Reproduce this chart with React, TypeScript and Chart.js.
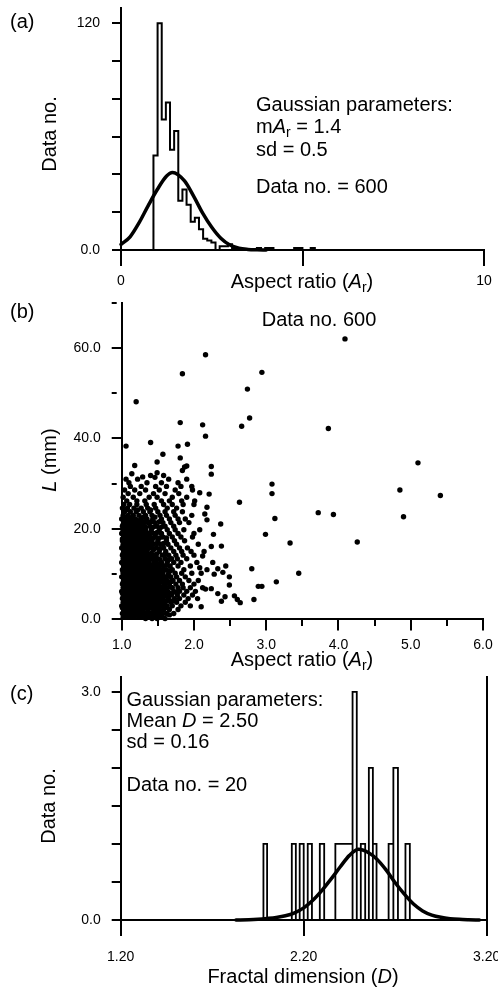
import React, { useEffect, useRef } from "react";
import { Chart, registerables } from "chart.js";

Chart.register(...registerables);

const FONT = '"Liberation Sans", Arial, Helvetica, sans-serif';
const BLACK = "#000";
const TICK_FONT = 14;

// ---------------- Panel (a): histogram of aspect ratio ----------------
const aBinStart = 0.894;
const aBinWidth = 0.114;
const aCounts = [50, 120, 69, 78, 53, 63, 26, 32, 24, 15, 17, 11, 6, 5, 4, 0, 2, 2, 3, 1, 0, 0, 0, 0, 0, 1, 0, 1, 1, 0, 0, 0, 0, 0, 1, 1, 0, 0, 1];
const aCurveX = [0, 0.25, 0.5, 0.75, 1.0, 1.25, 1.42, 1.75, 2.0, 2.25, 2.5, 2.75, 3.0, 3.25, 3.5, 3.75, 4.0];
const aCurveY = [3, 7, 14.5, 23.5, 32, 39, 41, 36.5, 28.5, 19.5, 12, 6.2, 2.6, 0.9, 0.3, 0.1, 0];
const aXTicks = [0, 5, 10];
const aXLabels = ["0", "", "10"];
const aYTicks = [0, 20, 40, 60, 80, 100, 120];
const aYLabels = ["0.0", "", "", "", "", "", "120"];

// ---------------- Panel (b): L versus aspect ratio ----------------
const bRowY = [0.5, 1.3, 2.2, 3.0, 3.8, 4.6, 5.4, 6.2, 7.0, 7.8, 8.6, 9.4, 10.2, 11.0, 11.8, 12.6, 13.4, 14.2, 15.0, 15.8, 16.6, 17.4, 18.2, 19.0, 19.8, 20.6, 21.4, 22.2, 23.0, 23.8, 24.6, 25.4, 26.2, 27.0, 27.8, 28.6, 29.4, 30.2, 31.0];
const bRowX = [
  [1.02, 1.06, 1.12, 1.17, 1.24, 1.3, 1.38, 1.45, 1.55],
  [1.01, 1.05, 1.1, 1.15, 1.2, 1.26, 1.33, 1.41, 1.5, 1.62, 1.72],
  [1.03, 1.08, 1.13, 1.19, 1.23, 1.29, 1.36, 1.44, 1.52, 1.58, 1.66, 1.78],
  [1.0, 1.04, 1.09, 1.14, 1.2, 1.27, 1.31, 1.37, 1.43, 1.48, 1.56, 1.63, 1.7, 1.82, 1.95],
  [1.02, 1.07, 1.11, 1.17, 1.22, 1.28, 1.34, 1.4, 1.46, 1.53, 1.6, 1.68, 1.76, 1.88],
  [1.01, 1.05, 1.1, 1.15, 1.2, 1.25, 1.31, 1.38, 1.44, 1.5, 1.57, 1.65, 1.73, 1.8, 1.92, 2.05],
  [1.03, 1.08, 1.13, 1.18, 1.24, 1.29, 1.35, 1.42, 1.47, 1.54, 1.61, 1.69, 1.77, 1.86, 1.98],
  [1.0, 1.05, 1.1, 1.16, 1.21, 1.27, 1.32, 1.39, 1.45, 1.52, 1.58, 1.64, 1.72, 1.8, 1.9, 2.02],
  [1.02, 1.07, 1.12, 1.18, 1.23, 1.3, 1.36, 1.41, 1.49, 1.56, 1.62, 1.7, 1.78, 1.85, 1.95, 2.12],
  [1.01, 1.06, 1.11, 1.15, 1.21, 1.26, 1.33, 1.38, 1.44, 1.51, 1.59, 1.66, 1.75, 1.84, 2.0],
  [1.03, 1.08, 1.13, 1.19, 1.24, 1.29, 1.35, 1.42, 1.48, 1.55, 1.63, 1.71, 1.8, 1.93, 2.06],
  [1.0, 1.05, 1.1, 1.16, 1.22, 1.27, 1.32, 1.4, 1.46, 1.53, 1.6, 1.68, 1.76, 1.88],
  [1.02, 1.07, 1.12, 1.17, 1.23, 1.3, 1.36, 1.43, 1.5, 1.57, 1.65, 1.74, 1.83, 1.97, 2.1],
  [1.01, 1.06, 1.11, 1.15, 1.2, 1.26, 1.33, 1.39, 1.45, 1.54, 1.62, 1.7, 1.86, 2.18],
  [1.03, 1.08, 1.13, 1.18, 1.24, 1.29, 1.36, 1.42, 1.49, 1.58, 1.67, 1.78, 1.95],
  [1.0, 1.05, 1.1, 1.15, 1.21, 1.27, 1.32, 1.38, 1.47, 1.55, 1.63, 1.72, 1.82, 2.04],
  [1.02, 1.07, 1.12, 1.17, 1.22, 1.28, 1.34, 1.4, 1.5, 1.6, 1.69, 1.77, 1.9],
  [1.01, 1.06, 1.1, 1.16, 1.2, 1.25, 1.31, 1.37, 1.44, 1.56, 1.65, 1.75, 1.85, 2.0],
  [1.03, 1.08, 1.13, 1.18, 1.23, 1.29, 1.35, 1.52, 1.61, 1.72, 1.83, 1.96, 2.14],
  [1.0, 1.05, 1.1, 1.15, 1.2, 1.26, 1.32, 1.4, 1.48, 1.58, 1.68, 1.8, 1.91],
  [1.02, 1.07, 1.12, 1.17, 1.23, 1.29, 1.36, 1.44, 1.54, 1.64, 1.76, 2.06],
  [1.01, 1.06, 1.11, 1.16, 1.21, 1.27, 1.34, 1.42, 1.5, 1.62, 1.73, 1.87],
  [1.03, 1.08, 1.13, 1.19, 1.25, 1.31, 1.39, 1.47, 1.57, 1.7, 1.82, 1.98],
  [1.0, 1.05, 1.1, 1.16, 1.22, 1.28, 1.37, 1.45, 1.55, 1.66, 1.78, 2.0],
  [1.02, 1.07, 1.13, 1.19, 1.26, 1.33, 1.41, 1.52, 1.63, 1.74, 1.86, 2.08],
  [1.01, 1.06, 1.11, 1.17, 1.24, 1.31, 1.39, 1.49, 1.6, 1.72],
  [1.03, 1.09, 1.15, 1.21, 1.28, 1.36, 1.46, 1.57, 1.68, 1.8, 1.93],
  [1.0, 1.06, 1.12, 1.19, 1.27, 1.35, 1.43, 1.55, 1.66, 1.78, 1.88],
  [1.02, 1.09, 1.16, 1.24, 1.33, 1.42, 1.53, 1.62, 1.74, 1.97],
  [1.04, 1.12, 1.2, 1.3, 1.39, 1.5, 1.6, 1.72, 1.84],
  [1.01, 1.08, 1.17, 1.27, 1.36, 1.47, 1.63, 1.76],
  [1.03, 1.11, 1.21, 1.34, 1.45, 1.58, 1.7, 1.85, 2.0],
  [1.07, 1.21, 1.32, 1.55, 1.66, 1.83, 2.01],
  [1.02, 1.16, 1.38, 1.49, 1.7, 1.9],
  [1.09, 1.25, 1.44, 1.6, 1.79],
  [1.04, 1.18, 1.33, 1.52, 1.74, 1.98],
  [1.12, 1.27, 1.47, 1.62, 1.82, 1.97],
  [1.1, 1.35, 1.55, 1.78],
  [1.06, 1.22, 1.65, 1.9],
];
// interleaved rows filling the dense core of the cloud
const bCoreY = [0.9, 1.7, 2.6, 3.4, 4.2, 5.0, 5.8, 6.6, 7.4, 8.2, 9.0, 9.8, 10.6, 11.4, 12.2, 13.0, 13.8, 14.6, 15.4, 16.2, 17.0, 17.8, 18.6, 19.4, 20.2, 21.0, 21.8];
const bCoreX = [
  [1.04, 1.09, 1.14, 1.2, 1.27, 1.34, 1.41, 1.5],
  [1.03, 1.08, 1.13, 1.18, 1.23, 1.3, 1.37, 1.46, 1.55],
  [1.01, 1.06, 1.11, 1.16, 1.21, 1.26, 1.33, 1.4, 1.48, 1.62],
  [1.03, 1.07, 1.12, 1.17, 1.24, 1.29, 1.35, 1.42, 1.51, 1.59],
  [1.04, 1.08, 1.13, 1.19, 1.24, 1.3, 1.36, 1.42, 1.48, 1.55, 1.63],
  [1.02, 1.06, 1.11, 1.16, 1.22, 1.27, 1.33, 1.39, 1.45, 1.52, 1.58],
  [1.01, 1.07, 1.12, 1.18, 1.23, 1.29, 1.36, 1.42, 1.49, 1.56, 1.66],
  [1.03, 1.08, 1.13, 1.19, 1.25, 1.3, 1.35, 1.43, 1.48, 1.55, 1.61],
  [1.04, 1.09, 1.15, 1.2, 1.26, 1.33, 1.39, 1.45, 1.52, 1.6],
  [1.02, 1.07, 1.13, 1.18, 1.23, 1.29, 1.35, 1.41, 1.47, 1.54, 1.62],
  [1.03, 1.08, 1.12, 1.19, 1.25, 1.3, 1.37, 1.43, 1.5, 1.57],
  [1.04, 1.09, 1.14, 1.2, 1.25, 1.31, 1.38, 1.44, 1.52],
  [1.02, 1.07, 1.11, 1.16, 1.22, 1.28, 1.34, 1.4, 1.47, 1.55],
  [1.04, 1.08, 1.13, 1.18, 1.23, 1.3, 1.36, 1.43, 1.51],
  [1.02, 1.07, 1.12, 1.17, 1.24, 1.3, 1.35, 1.44, 1.52],
  [1.04, 1.09, 1.14, 1.2, 1.25, 1.31, 1.37, 1.45],
  [1.03, 1.08, 1.13, 1.19, 1.25, 1.31, 1.38, 1.47],
  [1.02, 1.07, 1.12, 1.18, 1.23, 1.29, 1.34, 1.41],
  [1.04, 1.09, 1.15, 1.2, 1.26, 1.33, 1.44],
  [1.02, 1.07, 1.13, 1.18, 1.25, 1.31, 1.38],
  [1.03, 1.09, 1.14, 1.19, 1.25, 1.32, 1.4],
  [1.01, 1.06, 1.11, 1.17, 1.22, 1.29, 1.36],
  [1.04, 1.1, 1.15, 1.21, 1.28, 1.34],
  [1.02, 1.08, 1.13, 1.19, 1.25, 1.32],
  [1.04, 1.09, 1.15, 1.21, 1.28],
  [1.02, 1.07, 1.13, 1.2, 1.26],
  [1.04, 1.1, 1.16, 1.23],
];
// extra irregular points on the right flank of the dense core
const bFlankY = [0.2, 1.0, 2.9, 4.0, 5.2, 6.0, 7.2, 8.4, 9.6, 10.8, 12.0, 13.2, 14.4, 15.6, 16.8, 18.0, 19.2, 20.4, 21.6, 22.6, 24.2];
const bFlankX = [
  [1.33, 1.42, 1.49, 1.6],
  [1.3, 1.37, 1.45, 1.56, 1.66],
  [1.35, 1.41, 1.53, 1.61],
  [1.33, 1.47, 1.54, 1.7],
  [1.38, 1.44, 1.5, 1.64],
  [1.34, 1.41, 1.55, 1.62, 1.75],
  [1.34, 1.46, 1.53, 1.67],
  [1.32, 1.39, 1.45, 1.52, 1.59, 1.69],
  [1.35, 1.43, 1.49, 1.57, 1.64],
  [1.31, 1.38, 1.49, 1.58, 1.68],
  [1.33, 1.4, 1.46, 1.55, 1.62],
  [1.36, 1.44, 1.53, 1.65],
  [1.3, 1.4, 1.48, 1.6],
  [1.29, 1.36, 1.43, 1.53],
  [1.32, 1.4, 1.49, 1.58],
  [1.35, 1.43, 1.52, 1.62],
  [1.3, 1.4, 1.49],
  [1.33, 1.44, 1.55],
  [1.32, 1.41, 1.52],
  [1.05, 1.15, 1.3, 1.46],
  [1.06, 1.22, 1.4],
];
const bSparse: [number, number][] = [
  [4.09, 62.0], [2.16, 58.5], [1.84, 54.3], [2.94, 54.6], [1.2, 48.1], [2.74, 50.9], [2.77, 44.5], [2.66, 42.7],
  [1.81, 43.5], [2.12, 43.0], [3.86, 42.2], [2.16, 40.5], [1.06, 38.3], [1.4, 39.1], [1.78, 38.3], [1.91, 38.7],
  [1.57, 36.5], [1.81, 35.7], [1.49, 34.8], [1.18, 34.0], [1.9, 33.9], [1.87, 33.7], [1.84, 32.9], [2.24, 33.8],
  [2.24, 32.1], [5.1, 34.6], [1.14, 32.2], [1.29, 31.5], [1.49, 32.4], [1.46, 31.4], [1.4, 31.8], [1.58, 31.8],
  [3.08, 29.9], [3.08, 27.8], [4.85, 28.6], [5.41, 27.4], [2.63, 25.9], [3.72, 23.6], [3.93, 23.2], [4.9, 22.7],
  [3.12, 22.3], [2.99, 18.8], [3.33, 16.9], [4.26, 17.1], [3.45, 10.2], [3.14, 8.3], [2.8, 11.2], [2.89, 7.3],
  [2.94, 7.3], [2.83, 4.4], [2.56, 5.2], [2.6, 4.4], [2.64, 3.7], [2.49, 9.4], [2.49, 7.6], [2.44, 11.8],
  [2.4, 10.4], [2.33, 11.2], [2.28, 10.0], [2.26, 12.6], [2.38, 16.2], [2.24, 16.1], [2.27, 18.8], [2.37, 21.1],
  [2.18, 22.0], [2.15, 23.3], [2.18, 24.8], [2.21, 27.7], [2.16, 6.7], [2.24, 6.8], [2.33, 5.7], [2.38, 4.0],
  [2.43, 5.0], [2.1, 2.8], [2.12, 14.0], [2.08, 11.4], [2.08, 28.0],
];
const bXTicks = [1, 1.5, 2, 2.5, 3, 3.5, 4, 4.5, 5, 5.5, 6];
const bXLabels = ["1.0", "", "2.0", "", "3.0", "", "4.0", "", "5.0", "", "6.0"];
const bYTicks = [0, 10, 20, 30, 40, 50, 60, 70];
const bYLabels = ["0.0", "", "20.0", "", "40.0", "", "60.0", ""];

// ---------------- Panel (c): histogram of fractal dimension ----------------
const cBarLeft = [1.98, 2.135, 2.178, 2.222, 2.288, 2.373, 2.467, 2.512, 2.556, 2.578, 2.664, 2.69, 2.756];
const cBarRight = [2.0, 2.157, 2.2, 2.245, 2.312, 2.467, 2.49, 2.536, 2.578, 2.598, 2.69, 2.715, 2.78];
const cBarCount = [1, 1, 1, 1, 1, 1, 3, 1, 2, 1, 1, 2, 1];
const cCurveX = [1.83, 1.9, 1.95, 2.0, 2.05, 2.1, 2.15, 2.2, 2.25, 2.3, 2.35, 2.4, 2.45, 2.5, 2.55, 2.6, 2.65, 2.7, 2.75, 2.8, 2.85, 2.9, 2.95, 3.0, 3.05, 3.1, 3.16];
const cCurveY = [0, 0.004, 0.01, 0.02, 0.033, 0.055, 0.095, 0.16, 0.26, 0.39, 0.54, 0.7, 0.85, 0.93, 0.89, 0.8, 0.66, 0.49, 0.34, 0.21, 0.12, 0.065, 0.035, 0.018, 0.009, 0.004, 0];
const cXTicks = [1.2, 2.2, 3.2];
const cXLabels = ["1.20", "2.20", "3.20"];
const cYTicks = [0, 0.5, 1, 1.5, 2, 2.5, 3];
const cYLabels = ["0.0", "", "", "", "", "", "3.0"];

// ---------------- helpers ----------------
type ScaleSpec = {
  min: number; max: number; ticks: number[]; labels: string[];
  position: "left" | "bottom" | "right"; size: number; tickLength: number; padding: number;
  minor?: (v: number) => boolean; minorLength?: number; hideTicks?: boolean;
};

function makeScale(s: ScaleSpec): any {
  const horizontal = s.position === "bottom";
  return {
    type: "linear",
    position: s.position,
    min: s.min,
    max: s.max,
    afterBuildTicks: (scale: any) => {
      scale.ticks = s.ticks.map((v) => ({ value: v }));
    },
    afterFit: (scale: any) => {
      if (horizontal) scale.height = s.size;
      else scale.width = s.size;
      scale.paddingLeft = 0;
      scale.paddingRight = 0;
      scale.paddingTop = 0;
      scale.paddingBottom = 0;
    },
    grid: {
      display: !s.hideTicks,
      drawOnChartArea: false,
      drawTicks: !s.hideTicks,
      tickLength: s.tickLength,
      lineWidth: 2,
      color: BLACK,
      tickBorderDash: (ctx: any) =>
        s.minor && ctx && ctx.tick && s.minor(ctx.tick.value) ? [s.minorLength ?? 5, 300] : [],
    },
    border: { display: true, color: BLACK, width: 2 },
    ticks: {
      display: !s.hideTicks,
      color: BLACK,
      font: { family: FONT, size: TICK_FONT },
      padding: s.padding,
      autoSkip: false,
      maxRotation: 0,
      minRotation: 0,
      callback: (_v: any, i: number) => s.labels[i] ?? "",
    },
  };
}

function baseConfig(datasets: any[], scales: any, padding: any): any {
  return {
    type: "line",
    data: { datasets },
    options: {
      responsive: false,
      maintainAspectRatio: false,
      animation: false,
      events: [],
      layout: { padding },
      plugins: { legend: { display: false }, tooltip: { enabled: false }, title: { display: false } },
      scales,
    },
  };
}

function curveDataset(xs: number[], ys: number[], width: number) {
  return {
    data: xs.map((x, i) => ({ x, y: ys[i] })),
    borderColor: BLACK,
    borderWidth: width,
    pointRadius: 0,
    pointHoverRadius: 0,
    fill: false,
    cubicInterpolationMode: "monotone",
    borderCapStyle: "round",
    borderJoinStyle: "round",
    clip: false,
  };
}

function configA() {
  const edges = aCounts.map((_, i) => aBinStart + i * aBinWidth).concat([aBinStart + aCounts.length * aBinWidth]);
  const pts: { x: number; y: number }[] = [{ x: edges[0], y: 0 }];
  aCounts.forEach((c, i) => pts.push({ x: edges[i], y: c }));
  pts.push({ x: edges[aCounts.length], y: 0 });
  const hist = {
    data: pts,
    stepped: true,
    borderColor: BLACK,
    borderWidth: 2,
    pointRadius: 0,
    pointHoverRadius: 0,
    fill: false,
    borderJoinStyle: "miter",
    clip: false,
  };
  return baseConfig(
    [curveDataset(aCurveX, aCurveY, 3.5), hist],
    {
      x: makeScale({ min: 0, max: 10, ticks: aXTicks, labels: aXLabels, position: "bottom", size: 50, tickLength: 16, padding: 6.5 }),
      y: makeScale({ min: 0, max: 128, ticks: aYTicks, labels: aYLabels, position: "left", size: 121, tickLength: 9, padding: 12 }),
    },
    { left: 0, right: 14, top: 8, bottom: 0 }
  );
}

function configB() {
  const pts: { x: number; y: number }[] = [];
  bRowY.forEach((y, r) => bRowX[r].forEach((x) => pts.push({ x, y })));
  bCoreY.forEach((y, r) => bCoreX[r].forEach((x) => pts.push({ x, y })));
  bFlankY.forEach((y, r) => bFlankX[r].forEach((x) => pts.push({ x, y })));
  bSparse.forEach(([x, y]) => pts.push({ x, y }));
  const scatter = {
    data: pts,
    showLine: false,
    pointRadius: 2.7,
    pointHoverRadius: 2.7,
    pointBackgroundColor: BLACK,
    pointBorderWidth: 0,
    pointBorderColor: BLACK,
    clip: false,
  };
  return baseConfig(
    [scatter],
    {
      x: makeScale({ min: 1, max: 6, ticks: bXTicks, labels: bXLabels, position: "bottom", size: 40.6, tickLength: 11, padding: 6, minor: (v) => Math.abs(v - Math.round(v)) > 0.01, minorLength: 6 }),
      y: makeScale({ min: 0, max: 70, ticks: bYTicks, labels: bYLabels, position: "left", size: 121.7, tickLength: 10, padding: 11, minor: (v) => Math.round(v) % 20 !== 0, minorLength: 5 }),
    },
    { left: 0, right: 15, top: 2.7, bottom: 0 }
  );
}

function configC() {
  const pts: { x: number; y: number }[] = [];
  cBarCount.forEach((c, i) => {
    pts.push({ x: cBarLeft[i], y: 0 });
    pts.push({ x: cBarLeft[i], y: c });
    pts.push({ x: cBarRight[i], y: 0 });
  });
  const hist = {
    data: pts,
    stepped: true,
    borderColor: BLACK,
    borderWidth: 1.8,
    pointRadius: 0,
    pointHoverRadius: 0,
    fill: false,
    borderJoinStyle: "miter",
    clip: false,
  };
  return baseConfig(
    [curveDataset(cCurveX, cCurveY, 3.5), hist],
    {
      x: makeScale({ min: 1.2, max: 3.2, ticks: cXTicks, labels: cXLabels, position: "bottom", size: 71, tickLength: 16, padding: 13 }),
      y: makeScale({ min: 0, max: 3.2, ticks: cYTicks, labels: cYLabels, position: "left", size: 120.7, tickLength: 9, padding: 11 }),
      y2: makeScale({ min: 0, max: 3.2, ticks: [], labels: [], position: "right", size: 11.3, tickLength: 0, padding: 0, hideTicks: true }),
    },
    { left: 0, right: 0, top: 16.7, bottom: 0 }
  );
}

function ChartCanvas({ top, height, config }: { top: number; height: number; config: () => any }) {
  const ref = useRef<HTMLCanvasElement>(null);
  useEffect(() => {
    if (!ref.current) return;
    const chart = new Chart(ref.current, config());
    return () => chart.destroy();
  }, []);
  return (
    <canvas
      ref={ref}
      width={498}
      height={height}
      style={{ position: "absolute", left: 0, top, width: 498, height }}
    />
  );
}

function Sub({ children }: { children: React.ReactNode }) {
  return <span style={{ fontSize: "0.7em", position: "relative", top: "0.3em" }}>{children}</span>;
}

function Txt({
  x, y, size = 20, anchor = "start", rotate = false, children,
}: { x: number; y: number; size?: number; anchor?: "start" | "middle"; rotate?: boolean; children: React.ReactNode }) {
  const tx = anchor === "middle" ? "-50%" : "0";
  return (
    <div
      style={{
        position: "absolute",
        left: x,
        top: y,
        fontFamily: FONT,
        fontSize: size,
        lineHeight: 1,
        whiteSpace: "nowrap",
        color: BLACK,
        transform: `translate(${tx}, -50%)${rotate ? " rotate(-90deg)" : ""}`,
      }}
    >
      {children}
    </div>
  );
}

export default function App() {
  return (
    <div style={{ position: "absolute", left: 0, top: 0, width: 498, height: 991, background: "#fff", overflow: "hidden" }}>
      <ChartCanvas top={0} height={300} config={configA} />
      <ChartCanvas top={300} height={360} config={configB} />
      <ChartCanvas top={660} height={331} config={configC} />

      {/* Panel (a) */}
      <Txt x={10} y={21}>(a)</Txt>
      <Txt x={48.5} y={134} anchor="middle" rotate>Data no.</Txt>
      <Txt x={302} y={281} anchor="middle">Aspect ratio (<i>A</i><Sub>r</Sub>)</Txt>
      <Txt x={256} y={104}>Gaussian parameters:</Txt>
      <Txt x={256} y={126}>m<i>A</i><Sub>r</Sub> = 1.4</Txt>
      <Txt x={256} y={149}>sd = 0.5</Txt>
      <Txt x={256} y={186}>Data no. = 600</Txt>

      {/* Panel (b) */}
      <Txt x={10} y={311}>(b)</Txt>
      <Txt x={49} y={460} anchor="middle" rotate><i>L</i> (mm)</Txt>
      <Txt x={319} y={318.5} anchor="middle">Data no. 600</Txt>
      <Txt x={302} y={659} anchor="middle">Aspect ratio (<i>A</i><Sub>r</Sub>)</Txt>

      {/* Panel (c) */}
      <Txt x={10} y={693}>(c)</Txt>
      <Txt x={48} y={806} anchor="middle" rotate>Data no.</Txt>
      <Txt x={126.5} y={699}>Gaussian parameters:</Txt>
      <Txt x={126.5} y={720}>Mean <i>D</i> = 2.50</Txt>
      <Txt x={126.5} y={741}>sd = 0.16</Txt>
      <Txt x={126.5} y={784}>Data no. = 20</Txt>
      <Txt x={303} y={976} anchor="middle">Fractal dimension (<i>D</i>)</Txt>
    </div>
  );
}
